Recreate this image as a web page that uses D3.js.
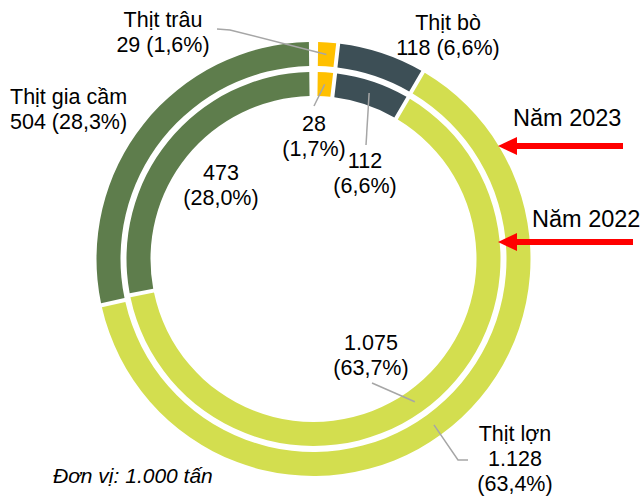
<html>
<head>
<meta charset="utf-8">
<style>
  body { margin: 0; background: white; }
  text { font-family: "Liberation Sans", Arial, sans-serif; fill: #000; }
</style>
</head>
<body>
<div id="chart"></div>

<script src="https://cdn.jsdelivr.net/npm/d3@7"></script>
<script>
// data: meat output by type, 1.000 tan
var categories = ["Thịt trâu", "Thịt bò", "Thịt lợn", "Thịt gia cầm"]
var values2023 = [29, 118, 1128, 504]
var values2022 = [28, 112, 1075, 473]
var shares2023 = ["1,6%", "6,6%", "63,4%", "28,3%"]
var shares2022 = ["1,7%", "6,6%", "63,7%", "28,0%"]
var yearLabels = ["Năm 2023", "Năm 2022"]
var unitNote = "Đơn vị: 1.000 tấn"

var colors = ["#FFC000", "#3D4F56", "#D3DE4F", "#5E7D4C"]

var width = 644
var height = 496
var cx = 313.5, cy = 259

var svg = d3.select("#chart")
	.append("svg")
	.attr("width", width)
	.attr("height", height)

var g = svg.append("g")
	.attr("transform", "translate(" + cx + "," + cy + ")")

// vietnamese number format: 1.128 and 63,4
var vn = d3.formatLocale({decimal: ",", thousands: ".", grouping: [3], currency: ["", ""]})
var fmt = vn.format(",d")

var pie = d3.pie().sort(null).value(d => d).startAngle(0.012).endAngle(2 * Math.PI - 0.012)

var rings = [
	{year: 2023, values: values2023, shares: shares2023, inner: 193, outer: 217},
	{year: 2022, values: values2022, shares: shares2022, inner: 163, outer: 187}
]

rings.forEach(function(r) {
	var arc = d3.arc()
		.innerRadius(r.inner)
		.outerRadius(r.outer)
		.padRadius(200)
		.padAngle(0.02)
	r.arcs = pie(r.values)
	r.mid = d3.arc().innerRadius((r.inner + r.outer) / 2).outerRadius((r.inner + r.outer) / 2)
	g.append("g")
		.selectAll("path")
		.data(r.arcs)
		.enter()
		.append("path")
		.attr("d", arc)
		.style("fill", (d, i) => colors[i])
})

// label layout (page coords): which ring, which slice, where the text sits, leader bends
var labels = [
	{ring: 0, i: 0, x: 163, y: 27, anchor: "middle", name: true, oneLine: true, line: [[217, 29], [230, 30]]},
	{ring: 0, i: 1, x: 448, y: 30, anchor: "middle", name: true, oneLine: true},
	{ring: 0, i: 3, x: 10, y: 104, anchor: "start", name: true, oneLine: true},
	{ring: 0, i: 2, x: 515, y: 441, anchor: "middle", name: true, oneLine: false, line: [[468, 460], [458, 460]]},
	{ring: 1, i: 3, x: 221, y: 180, anchor: "middle", name: false},
	{ring: 1, i: 0, x: 314, y: 131, anchor: "middle", name: false, line: [[314, 106]]},
	{ring: 1, i: 1, x: 365, y: 168, anchor: "middle", name: false, line: [[366, 145]]},
	{ring: 1, i: 2, x: 371, y: 350, anchor: "middle", name: false, line: [[372, 383]]}
]

var lineH = 25

// leader lines
labels.filter(d => d.line).forEach(function(d) {
	var r = rings[d.ring]
	var c = r.mid.centroid(r.arcs[d.i])
	var pts = d.line.concat([[c[0] + cx, c[1] + cy]])
	svg.append("path")
		.attr("d", d3.line()(pts))
		.style("fill", "none")
		.style("stroke", "#A6A6A6")
		.style("stroke-width", 1.5)
})

labels.forEach(function(d) {
	var r = rings[d.ring]
	var rows = []
	if (d.name) rows.push(categories[d.i])
	var v = fmt(r.values[d.i])
	var p = "(" + r.shares[d.i] + ")"
	if (d.name && d.oneLine) rows.push(v + " " + p)
	else { rows.push(v); rows.push(p) }
	var t = svg.append("text")
		.attr("text-anchor", d.anchor)
		.style("font-size", "21.5px")
	t.selectAll("tspan")
		.data(rows)
		.enter()
		.append("tspan")
		.attr("x", d.x)
		.attr("y", (s, k) => d.y + k * lineH)
		.text(s => s)
})

// year pointers
var pointers = [
	{text: yearLabels[0], tx: 513, ty: 126, y: 146, x0: 623, x1: 498},
	{text: yearLabels[1], tx: 532, ty: 227, y: 242, x0: 633, x1: 498}
]
pointers.forEach(function(p) {
	svg.append("text")
		.attr("x", p.tx)
		.attr("y", p.ty)
		.style("font-size", "23.5px")
		.text(p.text)
	svg.append("line")
		.attr("x1", p.x0).attr("y1", p.y)
		.attr("x2", p.x1 + 14).attr("y2", p.y)
		.style("stroke", "#FF0000")
		.style("stroke-width", 6)
	svg.append("path")
		.attr("d", d3.line()([[p.x1, p.y], [p.x1 + 19, p.y - 9], [p.x1 + 19, p.y + 9]]) + "Z")
		.style("fill", "#FF0000")
})

svg.append("text")
	.attr("x", 53)
	.attr("y", 483)
	.style("font-size", "21px")
	.style("font-style", "italic")
	.text(unitNote)
</script>
</body>
</html>
